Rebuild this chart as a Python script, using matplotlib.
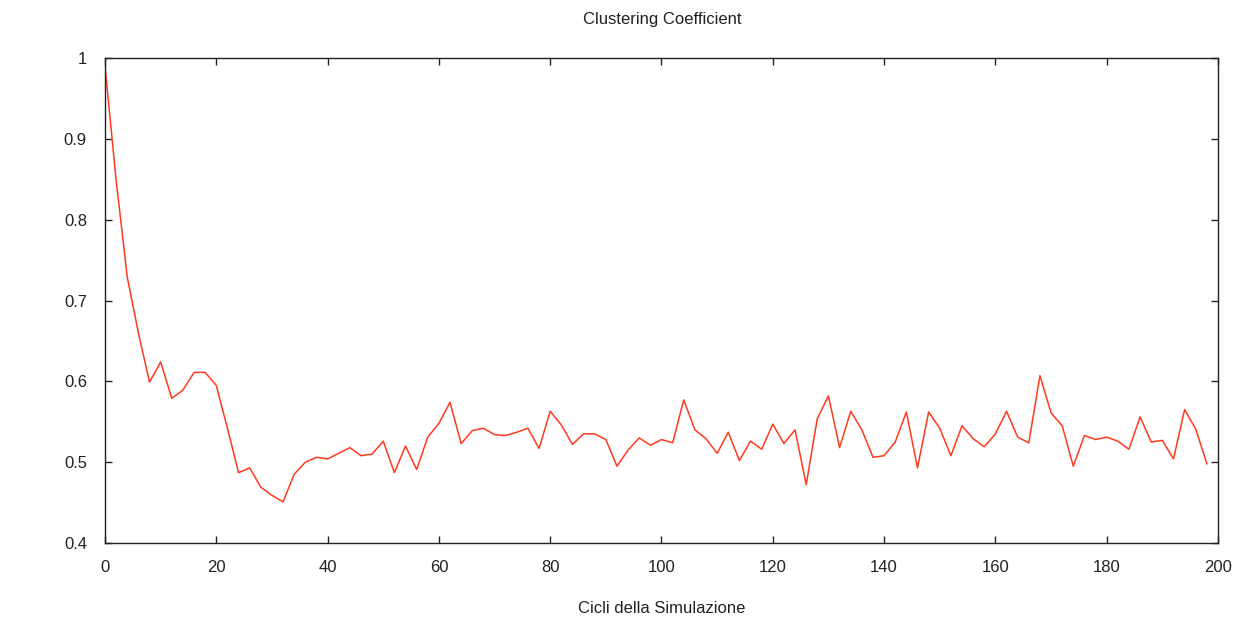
import matplotlib.pyplot as plt

# Cicli della simulazione (un campione ogni 2 cicli)
cicli = list(range(0, 200, 2))

# Coefficiente di clustering medio per ciclo
clustering = [
    0.990, 0.849, 0.729, 0.660, 0.599, 0.624, 0.579, 0.589, 0.611, 0.611,
    0.595, 0.542, 0.487, 0.493, 0.469, 0.459, 0.451, 0.485, 0.500, 0.506,
    0.504, 0.511, 0.518, 0.508, 0.510, 0.526, 0.487, 0.520, 0.491, 0.531,
    0.548, 0.574, 0.523, 0.539, 0.542, 0.534, 0.533, 0.537, 0.542, 0.517,
    0.563, 0.546, 0.522, 0.535, 0.535, 0.528, 0.495, 0.515, 0.530, 0.521,
    0.528, 0.524, 0.577, 0.540, 0.529, 0.511, 0.537, 0.502, 0.526, 0.516,
    0.547, 0.523, 0.540, 0.472, 0.554, 0.582, 0.518, 0.563, 0.540, 0.506,
    0.508, 0.525, 0.562, 0.493, 0.562, 0.542, 0.508, 0.545, 0.529, 0.519,
    0.535, 0.563, 0.531, 0.524, 0.607, 0.561, 0.545, 0.495, 0.533, 0.528,
    0.531, 0.526, 0.516, 0.556, 0.525, 0.527, 0.504, 0.565, 0.541, 0.498,
]

x_ticks = [0, 20, 40, 60, 80, 100, 120, 140, 160, 180, 200]
y_ticks = [0.4, 0.5, 0.6, 0.7, 0.8, 0.9, 1.0]
y_labels = ['0.4', '0.5', '0.6', '0.7', '0.8', '0.9', '1']

plt.rcParams['font.family'] = ['Liberation Sans', 'DejaVu Sans']

fig = plt.figure(figsize=(12.44, 6.21), dpi=100)
ax = fig.add_axes([0.0844, 0.1256, 0.8947, 0.7810])

ax.plot(cicli, clustering, color='#ff3a1e', linewidth=1.1)

ax.set_xlim(0, 200)
ax.set_ylim(0.4, 1.0)
ax.set_xticks(x_ticks)
ax.set_yticks(y_ticks)
ax.set_yticklabels(y_labels)

ax.tick_params(direction='in', length=5, width=1, colors='#222222',
               labelcolor='#222222', labelsize=12, top=True, right=True)
ax.tick_params(axis='x', pad=12)
ax.tick_params(axis='y', pad=13)
for s in ax.spines.values():
    s.set_color('#222222')
    s.set_linewidth(1)

fig.text(0.532, 0.968, 'Clustering Coefficient', ha='center', va='center',
         fontsize=12, color='#222222')
fig.text(0.532, 0.020, 'Cicli della Simulazione', ha='center', va='center',
         fontsize=12, color='#222222')

plt.savefig('out.png', dpi=100)
